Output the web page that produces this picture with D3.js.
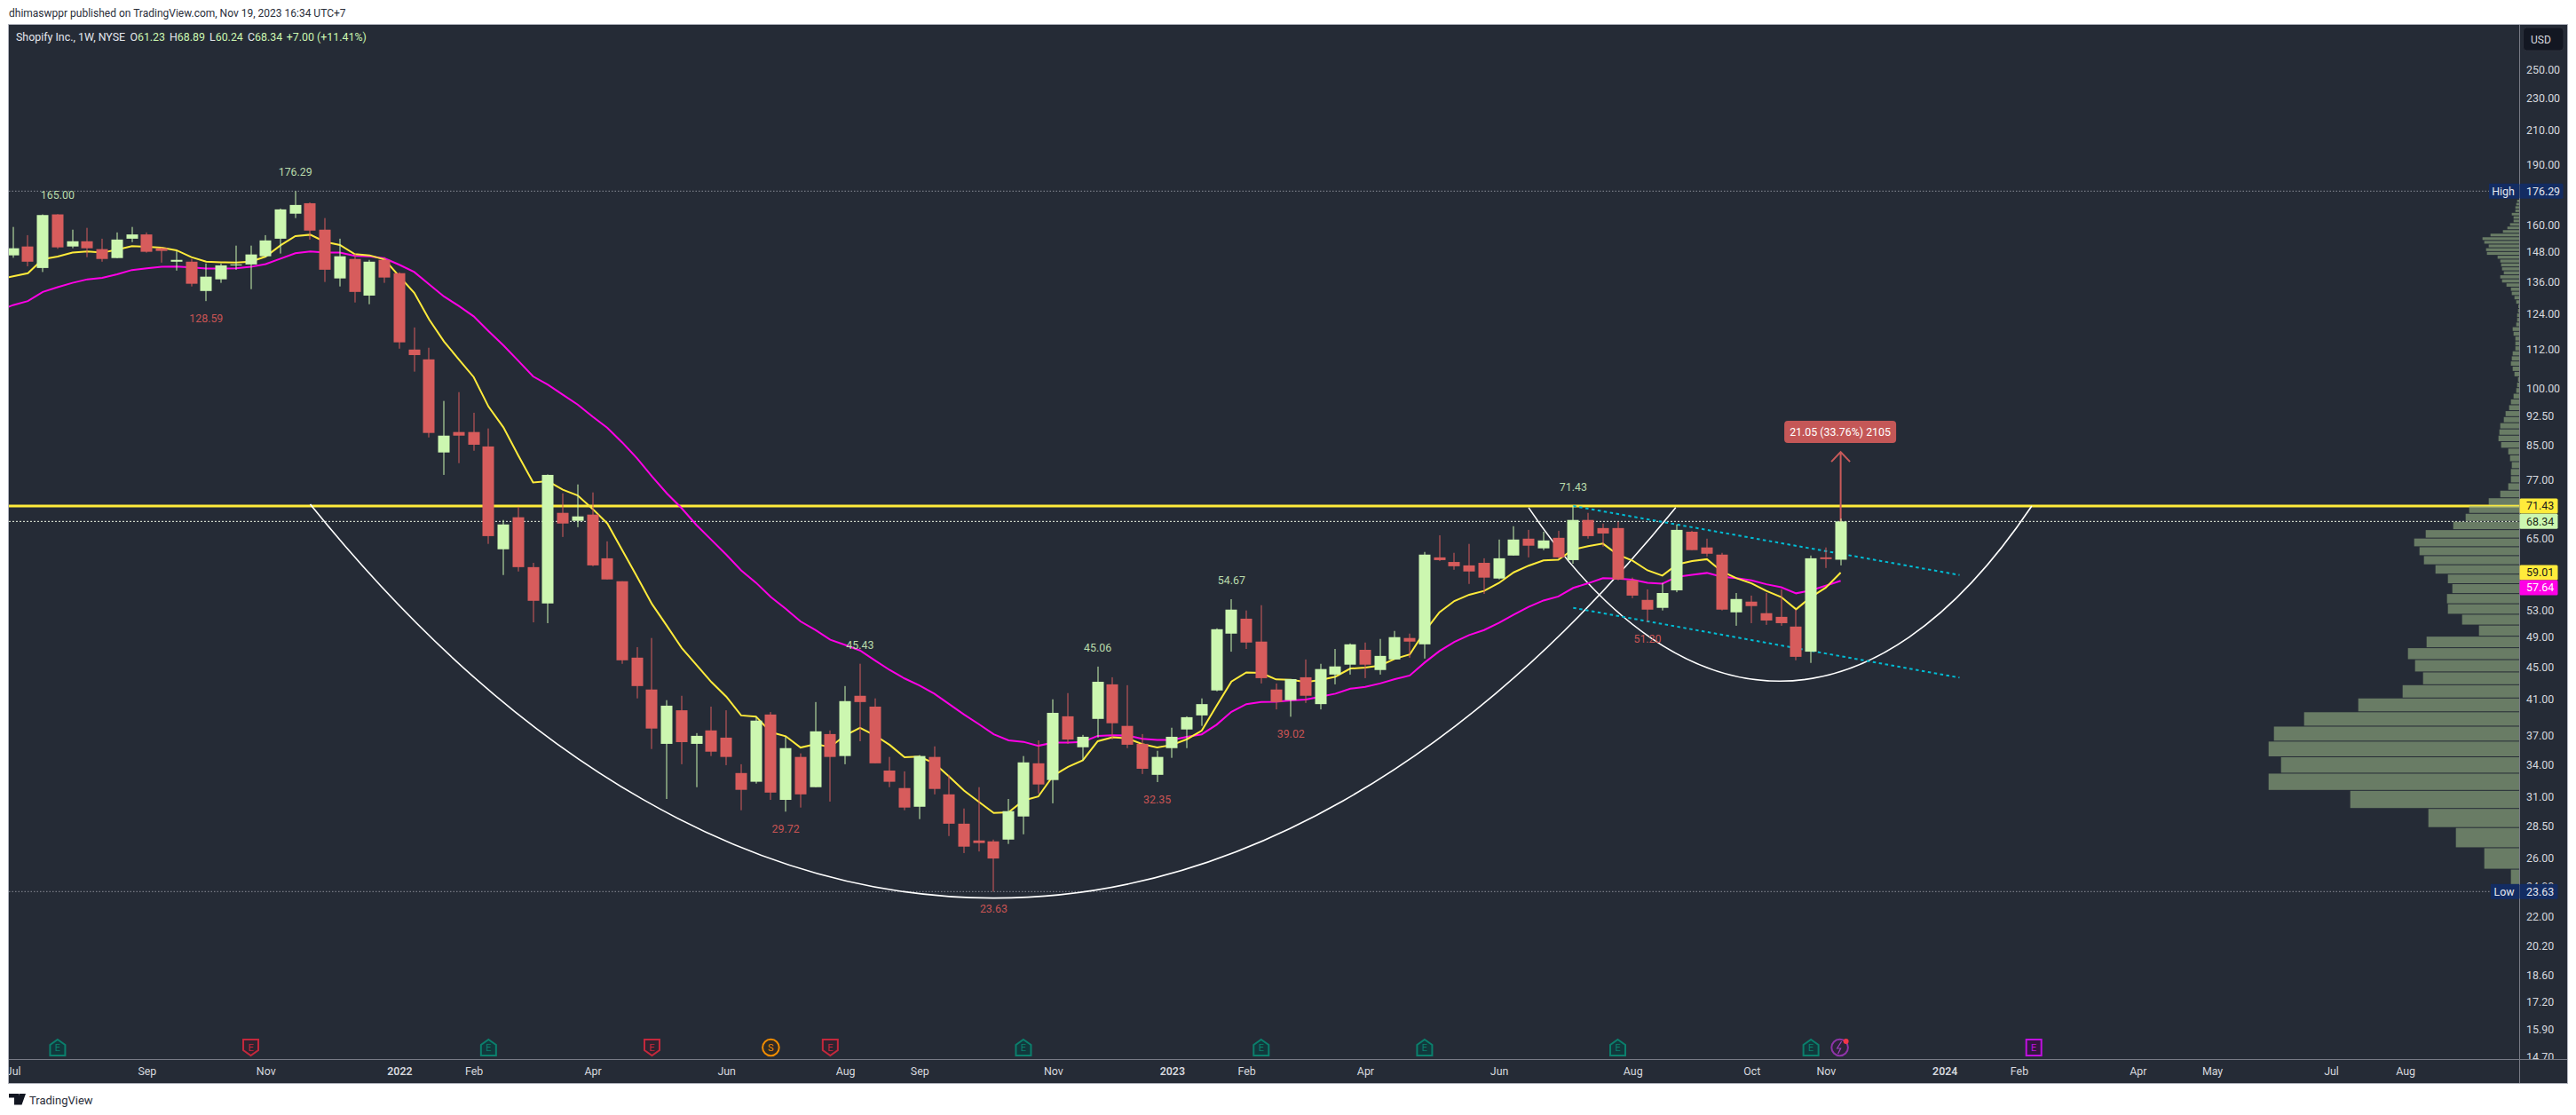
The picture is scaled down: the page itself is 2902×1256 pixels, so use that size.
<!DOCTYPE html>
<html><head><meta charset="utf-8">
<script src="https://cdn.jsdelivr.net/npm/d3@7"></script>
<style>
html,body{margin:0;padding:0;background:#fff;overflow:hidden}
text{font-family:Roboto,"Noto Sans",sans-serif}
</style></head><body>
<svg id="c" width="2902" height="1256" xmlns="http://www.w3.org/2000/svg"></svg>
<script>
const opens=[146.62,150.40,141.40,164.90,150.40,152.67,149.27,145.49,153.80,155.69,149.64,143.98,143.98,132.37,136.88,142.47,142.85,146.24,153.80,165.24,170.27,157.83,137.23,145.11,130.64,144.73,139.31,111.90,108.79,83.29,88.32,88.32,84.74,63.09,69.16,59.94,54.01,70.04,68.46,69.69,61.48,57.56,46.23,42.19,36.10,39.75,36.10,37.52,36.75,33.20,32.38,39.27,30.74,34.77,31.88,37.13,34.86,41.44,40.17,33.44,31.80,30.14,34.77,31.23,28.71,27.36,27.29,27.43,29.31,34.14,32.54,39.07,35.75,38.78,42.82,38.01,36.10,33.03,35.66,37.62,39.17,42.08,49.53,51.70,48.41,42.19,40.92,43.70,40.46,44.04,45.31,47.28,44.62,45.99,48.91,48.03,61.64,60.83,60.24,60.68,58.01,61.97,65.04,63.26,65.20,61.16,68.63,67.05,67.05,57.71,54.56,53.33,56.08,66.35,63.42,62.13,52.65,54.29,52.52,51.97,50.54,47.03,61.64,61.23];
const highs=[159.07,155.37,164.90,165.00,157.83,158.66,153.80,156.60,159.07,156.60,150.02,148.51,145.11,143.22,143.22,150.78,150.78,155.37,167.70,176.29,170.69,163.18,153.80,147.38,144.73,145.87,139.66,119.22,112.48,96.56,99.03,93.34,89.23,68.63,71.27,60.68,78.20,74.07,75.99,74.27,64.55,57.56,47.65,48.91,40.92,41.44,37.23,40.17,39.75,34.05,38.97,39.55,36.84,35.13,40.70,37.52,42.61,45.43,41.13,34.77,33.36,34.95,35.84,33.03,29.99,31.88,27.43,30.82,34.86,36.46,41.02,41.76,37.04,45.06,43.70,42.72,37.13,35.39,37.81,39.07,41.13,50.29,54.67,52.93,53.74,42.93,43.47,45.99,45.42,47.40,48.16,48.28,48.78,49.91,49.53,62.61,65.68,62.45,64.07,61.48,64.88,67.40,66.70,66.35,66.53,71.43,70.04,67.93,68.28,58.16,56.23,57.27,67.75,66.53,65.04,62.45,55.65,55.24,55.65,56.23,53.06,61.97,63.42,68.89];
const lows=[145.62,142.09,139.78,149.39,149.64,145.87,143.98,145.40,152.29,147.75,143.60,140.35,134.11,128.59,135.50,140.70,133.07,145.87,147.38,163.18,153.42,135.84,134.11,128.08,127.44,135.50,112.19,105.03,86.96,78.10,80.78,83.70,64.07,58.60,59.20,51.16,51.04,65.36,67.22,60.09,57.86,45.42,41.13,35.57,30.82,34.05,31.88,34.86,33.96,29.84,32.21,30.74,29.72,30.07,31.88,30.59,34.05,36.37,34.14,31.88,29.84,29.09,31.23,27.71,26.39,26.51,23.63,27.09,27.85,31.31,30.44,36.10,34.41,36.75,36.55,35.66,33.11,32.35,34.68,35.66,38.01,41.97,47.03,47.40,42.93,39.85,39.02,40.60,39.85,42.82,44.04,43.59,44.04,45.99,46.23,46.11,61.00,59.49,57.12,55.51,57.86,61.97,61.64,62.94,61.48,60.53,65.04,63.58,57.71,54.83,51.20,52.93,55.78,62.94,61.80,52.93,50.66,51.04,50.79,50.66,45.88,45.54,59.79,60.24];
const closes=[149.64,143.98,164.60,150.02,152.67,149.64,145.11,153.42,155.69,148.13,148.51,144.73,135.15,137.92,142.47,142.85,147.00,153.04,167.29,169.43,157.42,140.70,146.24,132.02,143.98,137.58,114.24,110.14,88.09,87.41,87.41,85.16,65.52,67.75,59.94,54.42,78.10,67.93,69.33,60.24,57.86,45.88,42.61,37.72,40.28,36.28,36.94,35.30,34.77,31.64,38.59,31.39,35.66,31.23,37.42,34.77,40.81,40.70,34.14,32.38,30.07,34.86,31.72,28.71,26.88,27.16,25.98,29.76,34.23,32.13,39.46,36.55,36.84,43.14,38.30,36.01,33.61,34.77,36.84,38.97,40.46,50.16,53.06,48.28,43.59,40.70,43.47,41.44,44.74,45.08,48.03,45.31,46.46,49.03,48.41,62.13,61.16,60.09,59.20,58.16,61.48,64.88,63.74,64.71,61.64,68.63,65.52,66.01,57.86,55.24,53.06,55.65,66.70,62.94,62.29,53.06,54.70,53.60,51.43,51.04,46.34,61.48,61.34,68.34];
// moving averages start one bar before the first full candle
const maFast=[136.90,138.04,139.31,144.99,146.12,147.76,148.27,147.76,149.01,150.53,150.27,149.90,148.76,145.87,143.98,143.73,143.60,143.98,146.12,150.90,154.93,155.57,152.41,151.03,147.13,146.62,144.86,138.04,131.68,122.02,114.53,108.79,103.41,94.99,89.53,82.59,76.44,76.69,74.84,73.63,70.86,67.93,62.94,58.31,53.92,50.66,47.53,45.27,43.10,41.34,39.17,39.04,37.33,36.90,35.72,36.07,35.78,37.00,37.81,37.00,35.99,34.74,34.80,34.14,32.87,31.58,30.57,29.61,29.66,30.69,31.04,32.95,33.79,34.44,36.37,36.78,36.68,36.07,35.72,35.99,36.58,37.49,40.28,43.17,44.31,44.24,43.43,43.39,43.10,43.36,43.78,44.81,44.93,45.19,46.08,46.65,49.83,52.65,54.38,55.38,55.98,57.27,59.05,60.19,61.10,61.21,63.04,63.64,64.12,62.13,61.05,59.39,58.50,60.43,61.00,61.32,59.20,58.06,57.22,55.98,55.01,53.11,55.01,56.52,59.01];
const maSlow=[125.00,127.12,128.60,132.02,133.85,135.50,136.88,137.46,138.85,140.59,141.28,141.86,141.97,141.63,141.16,141.16,141.28,141.86,142.97,145.24,147.50,148.27,147.76,147.76,146.37,146.24,145.36,142.72,139.78,134.92,130.31,126.80,123.09,117.95,113.26,108.35,103.59,101.17,98.29,95.57,92.33,89.38,85.71,81.90,77.78,74.07,70.98,67.63,64.82,62.13,59.39,57.32,55.01,53.20,51.29,50.04,48.66,47.95,47.19,45.88,44.62,43.55,42.68,41.69,40.46,39.27,38.20,37.10,36.46,36.31,35.90,36.22,36.22,36.31,36.94,37.00,36.97,36.62,36.52,36.52,36.84,37.10,38.14,39.58,40.46,40.70,40.74,40.88,40.99,41.34,41.69,42.29,42.50,42.93,43.47,43.92,45.58,47.11,48.36,49.32,50.04,51.08,52.29,53.47,54.47,55.10,56.47,57.22,58.06,58.01,57.81,57.32,57.17,58.31,58.65,58.95,58.31,58.06,57.71,57.07,56.58,55.60,56.08,56.83,57.64];
const vpVolumes=[28,118,214,307,571,847,805,847,829,727,544,394,325,352,376,313,136,193,241,244,226,241,283,322,337,355,316,223,181,169,103,64,37,28,28,25,31,37,61,70,67,64,52,46,34,28,19,10,7,4,16,22,28,25,22,13,13,13,19,22,10,7,7,4,3,10,16,25,28,43,58,64,52,58,61,64,73,109,112,103,118,124,97,55,40,31,19,19,25,13,13,10,7];
const vpBase=23.63, vpStep=1.6;
const priceTicks=[250,230,210,190,160,148,136,124,112,100,92.5,85,77,65,53,49,45,41,37,34,31,28.5,26,24,22,20.2,18.6,17.2,15.9,14.7];
const timeTickBars=[0,9,17,26,31,39,48,56,61,70,78,83,91,100,109,117,122,130,135,143,148,156,161];
const timeTickLabels=["Jul","Sep","Nov","2022","Feb","Apr","Jun","Aug","Sep","Nov","2023","Feb","Apr","Jun","Aug","Oct","Nov","2024","Feb","Apr","May","Jul","Aug"];
const pivotBars=[3,19,13,57,52,73,66,77,82,86,105,110];
const pivotValues=[165.00,176.29,128.59,45.43,29.72,45.06,23.63,32.35,54.67,39.02,71.43,51.20];
const pivotKinds=["H","H","L","H","L","H","L","L","H","L","H","L"];
// arc drawings: start, two control handles, end (bar index, price)
const cupBigBars=[20,48.5,83.4,111.9];
const cupBigPrices=[71.79,15.94,15.94,71.1];
const cupSmallBars=[102,112.47,125.33,135.86];
const cupSmallPrices=[71.09,36.58,36.58,71.43];
const channelBars=[105,131];
const channelUpper=[71.43,58.60];
const channelLower=[53.33,43.65];
const keyLevel=71.43, lastClose=68.34, allHigh=176.29, allLow=23.63;
const rangeFrom=62.35, rangeTo=83.40, rangeBar=123, rangeText="21.05 (33.76%) 2105";
const earningsGreen=[3,32,68,84,95,108,121];
const earningsRed=[16,43,55];
const earningsFuture=[136];
const splitBar=[51];
const newsBar=[123];

const C={bg:"#252b36",up:"#ccf7b0",dn:"#d75c5c",yellow:"#ffeb3b",mag:"#ff00e6",cyan:"#00bcd4",axis:"#787b86",txt:"#d6d8de",hi:"#b9dbab",lo:"#c95454"};
const L={l:10,r:2892,t:28,b:1220,ax:2838,tb:1193};
const x=d3.scaleLinear().domain([0,123]).range([14.7,2073.6]);
const y=d3.scaleLog().domain([23.63,176.29]).range([1004.3,215.3]);
const svg=d3.select("#c");
const defs=svg.append("defs");
defs.append("clipPath").attr("id","plot").append("rect").attr("x",L.l).attr("y",L.t).attr("width",L.ax-L.l).attr("height",L.tb-L.t);
defs.append("clipPath").attr("id","paxis").append("rect").attr("x",L.ax).attr("y",L.t).attr("width",L.r-L.ax).attr("height",L.tb-L.t);
defs.append("clipPath").attr("id","taxis").append("rect").attr("x",L.l).attr("y",L.tb).attr("width",L.ax-L.l).attr("height",L.b-L.tb);

svg.append("rect").attr("x",L.l-.5).attr("y",L.t-.5).attr("width",L.r-L.l+1).attr("height",L.b-L.t+1).attr("fill",C.bg).attr("stroke","#b2b5be").attr("stroke-width",1);

const plot=svg.append("g").attr("clip-path","url(#plot)");
const hline=(v,col,w,dash)=>plot.append("line").attr("x1",L.l).attr("x2",L.ax).attr("y1",y(v)).attr("y2",y(v)).attr("stroke",col).attr("stroke-width",w).attr("stroke-dasharray",dash||null);
hline(allHigh,"#8b8f99",1,"1.5 2");
hline(allLow,"#8b8f99",1,"1.5 2");
hline(lastClose,"#eef6e4",1,"2 2");
hline(keyLevel,C.yellow,3);

const lineXY=d3.line().x(d=>x(d[0])).y(d=>y(d[1]));
function arcPath(bars,prices){
  const p=d3.path();
  p.moveTo(x(bars[0]),y(prices[0]));
  p.bezierCurveTo(x(bars[1]),y(prices[1]),x(bars[2]),y(prices[2]),x(bars[3]),y(prices[3]));
  return p.toString();
}
plot.append("path").attr("d",arcPath(cupBigBars,cupBigPrices)).attr("fill","none").attr("stroke","#fff").attr("stroke-width",1.6);
plot.append("path").attr("d",arcPath(cupSmallBars,cupSmallPrices)).attr("fill","none").attr("stroke","#fff").attr("stroke-width",1.6);
[channelUpper,channelLower].forEach(ch=>plot.append("path").attr("d",lineXY(channelBars.map((b,i)=>[b,ch[i]]))).attr("fill","none").attr("stroke",C.cyan).attr("stroke-width",2).attr("stroke-dasharray","3.5 3.5"));

// price range arrow
const ax0=x(rangeBar),ay0=y(rangeFrom),ay1=y(rangeTo);
plot.append("path").attr("d",`M${ax0},${ay0}L${ax0},${ay1}M${ax0-10.5},${ay1+11}L${ax0},${ay1}L${ax0+10.5},${ay1+11}`).attr("fill","none").attr("stroke","#c95a5a").attr("stroke-width",2);
const rangeG=plot.append("g");
rangeG.append("rect").attr("x",ax0-63.5).attr("y",474).attr("width",126).attr("height",25).attr("rx",4).attr("fill","#c45757");
rangeG.append("text").attr("x",ax0-.5).attr("y",486.5).attr("dy",".35em").attr("text-anchor","middle").attr("fill","#fff").attr("font-size",12.4).text(rangeText);

const ma=d3.line().x((d,i)=>x(i-1)).y(d=>y(d));
plot.append("path").attr("d",ma(maSlow)).attr("fill","none").attr("stroke",C.mag).attr("stroke-width",2);
plot.append("path").attr("d",ma(maFast)).attr("fill","none").attr("stroke",C.yellow).attr("stroke-width",2);

// candles
const bw=13;
const idx=d3.range(opens.length);
const col=i=>closes[i]>=opens[i]?C.up:C.dn;
plot.append("g").selectAll("rect").data(idx).join("rect")
 .attr("x",i=>Math.round(x(i))-.5).attr("width",1).attr("y",i=>y(highs[i])).attr("height",i=>Math.max(1,y(lows[i])-y(highs[i]))).attr("fill",col);
plot.append("g").selectAll("rect").data(idx).join("rect")
 .attr("x",i=>Math.round(x(i))-bw/2).attr("width",bw)
 .attr("y",i=>y(Math.max(opens[i],closes[i])))
 .attr("height",i=>Math.max(1,Math.abs(y(opens[i])-y(closes[i])))).attr("fill",col);

// pivot labels
plot.append("g").selectAll("text").data(pivotBars).join("text")
 .attr("x",(b,i)=>x(b)).attr("y",(b,i)=>y(pivotValues[i])+(pivotKinds[i]==="H"?-21.3:19.2)).attr("dy",".35em")
 .attr("text-anchor","middle").attr("font-size",12.4).attr("fill",(b,i)=>pivotKinds[i]==="H"?C.hi:C.lo)
 .text((b,i)=>pivotValues[i].toFixed(2));

// volume profile
const vpW=d3.scaleLinear().domain([0,847]).range([0,282.3]);
plot.append("g").selectAll("rect").data(vpVolumes).join("rect")
 .attr("x",d=>L.ax-vpW(d)).attr("width",d=>vpW(d))
 .attr("y",(d,k)=>y(vpBase+vpStep*(k+1))+1)
 .attr("height",(d,k)=>Math.max(1,y(vpBase+vpStep*k)-y(vpBase+vpStep*(k+1))-1))
 .attr("fill","rgb(152,178,134)").attr("fill-opacity",.6);

// markers
const markY=1180;
const mk=plot.append("g");
function shield(bx,up,stroke,fill){
  const cx=x(bx),w=8.5,h=9;
  const p=up?`M${cx},${markY-h}L${cx+w},${markY-h+6}L${cx+w},${markY+h}L${cx-w},${markY+h}L${cx-w},${markY-h+6}Z`
            :`M${cx-w},${markY-h}L${cx+w},${markY-h}L${cx+w},${markY+h-6}L${cx},${markY+h}L${cx-w},${markY+h-6}Z`;
  mk.append("path").attr("d",p).attr("fill",fill).attr("stroke",stroke).attr("stroke-width",2);
  mk.append("text").attr("x",cx).attr("y",markY).attr("dy",".35em").attr("text-anchor","middle").attr("font-size",11).attr("fill",stroke).text("E");
}
earningsGreen.forEach(b=>shield(b,true,"#0b7f6c","#12383c"));
earningsRed.forEach(b=>shield(b,false,"#c4283c","#2e2330"));
earningsFuture.forEach(b=>{const cx=x(b);
  mk.append("rect").attr("x",cx-8.5).attr("y",markY-9).attr("width",17).attr("height",18).attr("fill","#33173f").attr("stroke","#c010e0").attr("stroke-width",2);
  mk.append("text").attr("x",cx).attr("y",markY).attr("dy",".35em").attr("text-anchor","middle").attr("font-size",11).attr("fill","#c010e0").text("E");});
splitBar.forEach(b=>{const cx=x(b);
  mk.append("circle").attr("cx",cx).attr("cy",markY).attr("r",9.3).attr("fill","#2f2a25").attr("stroke","#f08c00").attr("stroke-width",2);
  mk.append("text").attr("x",cx).attr("y",markY).attr("dy",".35em").attr("text-anchor","middle").attr("font-size",11).attr("fill","#f08c00").text("S");});
newsBar.forEach(b=>{const cx=x(b)-1;
  mk.append("circle").attr("cx",cx).attr("cy",markY).attr("r",9.3).attr("fill","#2b2438").attr("stroke","#8e34a8").attr("stroke-width",2);
  mk.append("path").attr("d",`M${cx+2},${markY-7}L${cx-3},${markY+1}L${cx+1},${markY+1}L${cx-2},${markY+7}`).attr("fill","none").attr("stroke","#a040c0").attr("stroke-width",1.2);
  mk.append("circle").attr("cx",cx+7).attr("cy",markY-7).attr("r",3).attr("fill","#f23645");});

// axes
svg.append("line").attr("x1",L.ax+.5).attr("x2",L.ax+.5).attr("y1",L.t).attr("y2",L.b).attr("stroke",C.axis);
svg.append("line").attr("x1",L.l).attr("x2",L.r).attr("y1",L.tb+.5).attr("y2",L.tb+.5).attr("stroke",C.axis);

const pAxis=d3.axisRight(y).tickValues(priceTicks).tickFormat(d3.format(".2f")).tickSize(0).tickPadding(8);
const gp=svg.append("g").attr("clip-path","url(#paxis)").append("g").attr("transform",`translate(${L.ax},0)`).call(pAxis);
gp.select(".domain").remove();
gp.selectAll("text").attr("fill",C.txt).attr("font-size",12.4).attr("font-family","Roboto,sans-serif");

const tAxis=d3.axisBottom(x).tickValues(timeTickBars).tickFormat((d,i)=>timeTickLabels[i]).tickSize(0).tickPadding(9.5);
const gt=svg.append("g").attr("clip-path","url(#taxis)").append("g").attr("transform",`translate(0,${L.tb})`).call(tAxis);
gt.select(".domain").remove();
gt.selectAll("text").attr("fill",C.txt).attr("font-size",12.4).attr("font-family","Roboto,sans-serif").attr("font-weight",(d,i)=>/^20/.test(timeTickLabels[i])?600:400);

// price labels
const tagH=17, tagX=L.ax+.5, tagW=43;
function tag(cy,fill,tc,txt,w){
  svg.append("rect").attr("x",tagX).attr("y",cy-tagH/2).attr("width",w||tagW).attr("height",tagH).attr("rx",1.5).attr("fill",fill);
  svg.append("text").attr("x",L.ax+8).attr("y",cy).attr("dy",".35em").attr("font-size",12.4).attr("fill",tc).text(txt);
}
function side(cy,fill,txt,w){
  svg.append("rect").attr("x",L.ax-w).attr("y",cy-tagH/2).attr("width",w).attr("height",tagH).attr("fill",fill);
  svg.append("text").attr("x",L.ax-w/2-1).attr("y",cy).attr("dy",".35em").attr("text-anchor","middle").attr("font-size",12.4).attr("fill","#e4e7ee").text(txt);
}
side(y(allHigh),"#132c62","High",34);
tag(y(allHigh),"#132c62","#e4e7ee",allHigh.toFixed(2),49);
side(y(allLow),"#132c62","Low",32);
tag(y(allLow),"#132c62","#e4e7ee",allLow.toFixed(2));
tag(y(keyLevel),C.yellow,"#1a1a1a",keyLevel.toFixed(2));
tag(y(lastClose),C.up,"#1f2a1a",lastClose.toFixed(2));
tag(y(maFast[maFast.length-1]),C.yellow,"#1a1a1a",maFast[maFast.length-1].toFixed(2));
tag(y(maFast[maFast.length-1])+tagH,C.mag,"#fff",maSlow[maSlow.length-1].toFixed(2));

// USD box
svg.append("rect").attr("x",2842.5).attr("y",31).attr("width",45.5).attr("height",26).attr("rx",4).attr("fill","#131722").attr("stroke","#2a2e39");
svg.append("text").attr("x",2851).attr("y",44.5).attr("dy",".35em").attr("font-size",12).attr("fill","#d6d8de").text("USD");

// header and legend
svg.append("text").attr("x",10).attr("y",15).attr("dy",".35em").attr("font-size",12).attr("fill","#2a2e39").text("dhimaswppr published on TradingView.com, Nov 19, 2023 16:34 UTC+7");
const lg=svg.append("g").attr("font-size",12.4);
lg.append("text").attr("x",18).attr("y",42).attr("dy",".35em").attr("fill","#e4e7ee").text("Shopify Inc., 1W, NYSE");
[["O","61.23",146.4],["H","68.89",191],["L","60.24",236],["C","68.34",279]].forEach(d=>{
  const t=lg.append("text").attr("x",d[2]).attr("y",42).attr("dy",".35em");
  t.append("tspan").attr("fill","#e4e7ee").text(d[0]);
  t.append("tspan").attr("fill",C.up).text(d[1]);
});
lg.append("text").attr("x",322.8).attr("y",42).attr("dy",".35em").attr("fill",C.up).text("+7.00 (+11.41%)");

// footer
svg.append("path").attr("d","M10,1232h11v12.5h-5v-8h-6zM21.5,1232h7.5l-4.5,12.5h-5.5z").attr("fill","#131722");
svg.append("text").attr("x",33).attr("y",1239).attr("dy",".35em").attr("font-size",13).attr("fill","#2a2e39").text("TradingView");
</script></body></html>
